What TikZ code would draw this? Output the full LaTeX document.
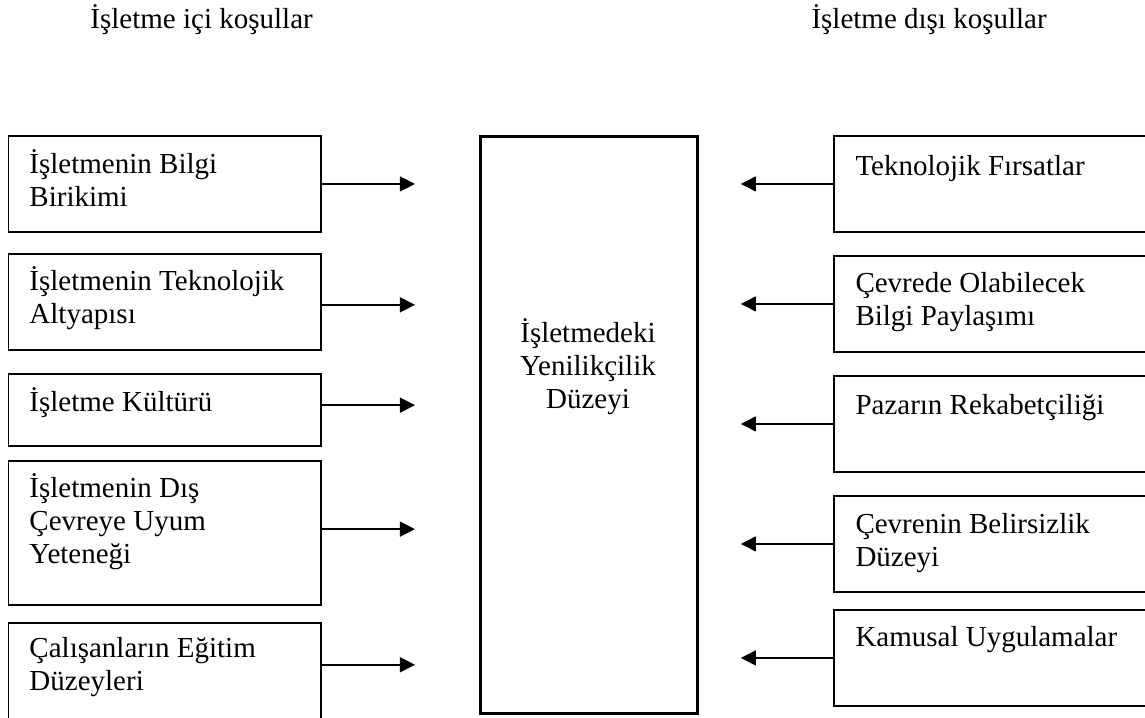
\documentclass[tikz,border=0pt]{standalone}
\usepackage{fontspec}
\setmainfont{Liberation Serif}
\usetikzlibrary{arrows.meta}

\begin{document}
\begin{tikzpicture}[
  x=0.4138pt, y=-0.4138pt,
  every node/.style={font=\fontsize{12pt}{13.8pt}\selectfont},
  box/.style={rectangle, draw=black, line width=0.8pt, anchor=north west, inner sep=0pt},
  lbox/.style={box, minimum width=129.5pt},
  rbox/.style={box, minimum width=140pt, minimum height=39.7pt},
  ctrbox/.style={box, line width=1.15pt, minimum width=89.8pt, minimum height=238.8pt},
  txt/.style={anchor=base west, inner sep=0pt, text width=125pt, align=flush left},
  head/.style={anchor=base west, inner sep=0pt},
  arr/.style={-{Triangle[length=6.2pt, width=6.2pt]}, line width=0.6pt}
]
\useasboundingbox (0,0) rectangle (1145,717);
\clip (0,0) rectangle (1145,717);

% Headings
\node[head] (hin) at (90,28) {İşletme içi koşullar};
\node[head] (hout) at (811,28) {İşletme dışı koşullar};

% Centre box
\node[ctrbox] (ctr) at (479,135) {};
\node[anchor=base, inner sep=0pt, text width=100pt, align=flush center] (ctrtxt) at (588,342)
  {İşletmedeki\\Yenilikçilik\\Düzeyi};

% Internal conditions (left)
\node[lbox, minimum height=39.7pt] (l1) at (7.5,135) {};
\node[lbox, minimum height=39.7pt] (l2) at (7.5,253) {};
\node[lbox, minimum height=29.8pt] (l3) at (7.5,373) {};
\node[lbox, minimum height=59.6pt] (l4) at (7.5,460) {};
\node[lbox, minimum height=42pt] (l5) at (7.5,622) {};

\node[txt] (lt1) at (29,173) {İşletmenin Bilgi\\Birikimi};
\node[txt] (lt2) at (29,290) {İşletmenin Teknolojik\\Altyapısı};
\node[txt] (lt3) at (29,411) {İşletme Kültürü};
\node[txt] (lt4) at (29,497) {İşletmenin Dış\\Çevreye Uyum\\Yeteneği};
\node[txt] (lt5) at (29,657) {Çalışanların Eğitim\\Düzeyleri};

% External conditions (right)
\node[rbox] (r1) at (833,135) {};
\node[rbox] (r2) at (833,255) {};
\node[rbox] (r3) at (833,375) {};
\node[rbox] (r4) at (833,495) {};
\node[rbox] (r5) at (833,609) {};

\node[txt] (rt1) at (855,175) {Teknolojik Fırsatlar};
\node[txt] (rt2) at (855,292) {Çevrede Olabilecek\\Bilgi Paylaşımı};
\node[txt] (rt3) at (855,414) {Pazarın Rekabetçiliği};
\node[txt] (rt4) at (855,533) {Çevrenin Belirsizlik\\Düzeyi};
\node[txt] (rt5) at (855,646) {Kamusal Uygulamalar};

% Arrows towards the centre
\foreach \i/\dy in {1/0pt,2/-1.2pt,3/2pt,4/1.6pt,5/3.7pt}
  \draw[arr] ([yshift=\dy]l\i.east) -- ([xshift=-26.5pt,yshift=\dy]l\i.east -| ctr.west);
\foreach \i in {1,...,5}
  \draw[arr] (r\i.west) -- ([xshift=17.4pt]r\i.west -| ctr.east);
\end{tikzpicture}
\end{document}
